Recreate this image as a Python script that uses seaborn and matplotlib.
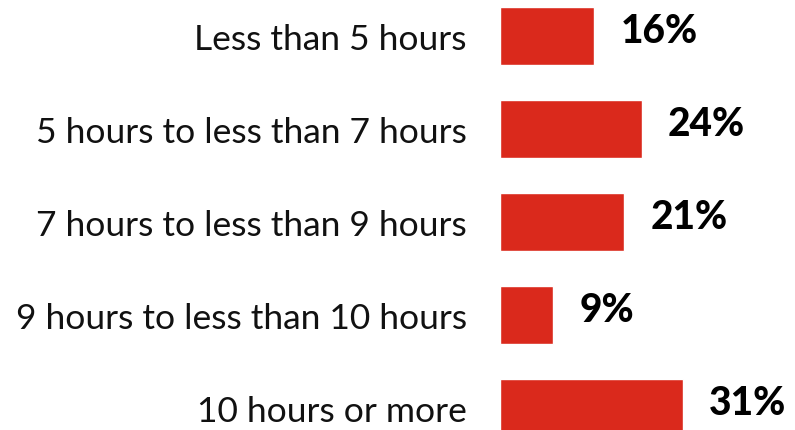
import matplotlib
matplotlib.use("Agg")
import matplotlib.pyplot as plt
import pandas as pd
import seaborn as sns

categories = [
    "Less than 5 hours",
    "5 hours to less than 7 hours",
    "7 hours to less than 9 hours",
    "9 hours to less than 10 hours",
    "10 hours or more",
]
shares = [16, 24, 21, 9, 31]
value_labels = ["16%", "24%", "21%", "9%", "31%"]

bar_color = "#DA291C"

sns.set_style("white")
plt.rcParams["font.family"] = ["Lato", "DejaVu Sans"]

df = pd.DataFrame({"category": categories, "share": shares})

fig = plt.figure(figsize=(7.95, 4.31), dpi=100)
ax = fig.add_axes([500 / 795, 0, 295 / 795, 1])

sns.barplot(data=df, x="share", y="category", color=bar_color,
            width=0.62, saturation=1, ax=ax)

ax.set_xlim(0, 50)
ax.set_ylim(4.237, -0.398)

for i, (v, lab) in enumerate(zip(shares, value_labels)):
    ax.annotate(lab, xy=(v, i), xytext=(19, 4), textcoords="offset points",
                ha="left", va="center", fontsize=28, fontweight="black",
                color="black", clip_on=False)

ax.set_xlabel("")
ax.set_ylabel("")
ax.set_xticks([])
ax.tick_params(axis="y", length=0, pad=24, labelsize=25.5, labelcolor="#111111")
for s in ax.spines.values():
    s.set_visible(False)

fig.savefig("out.png", dpi=100)
